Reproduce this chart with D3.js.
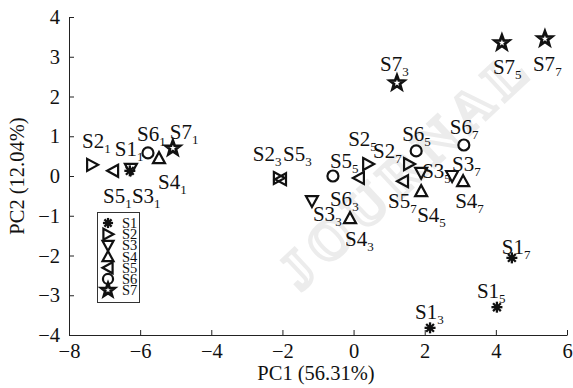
<!DOCTYPE html>
<html><head><meta charset="utf-8">
<script src="https://cdn.jsdelivr.net/npm/d3@7"></script>
<style>
body{margin:0;background:#fff}
svg{display:block}
text{font-family:"Liberation Serif","Times New Roman",serif;fill:#111}
</style>
</head><body>
<svg id="c" width="573" height="388"></svg>
<script>
// ---------- data ----------
const samples = ["S1","S2","S3","S4","S5","S6","S7"];
const stages  = ["1","3","5","7"];
const markerTypes = ["asterisk","triRight","triDown","triUp","triLeft","circle","star"];
// PC1 scores per sample, for stages 1,3,5,7
const pc1 = [
  [-6.29, 2.15, 4.03, 4.45],
  [-7.35,-2.10, 0.41, 1.56],
  [-6.26,-1.17, 1.90, 2.77],
  [-5.47,-0.10, 1.90, 3.08],
  [-6.76,-2.04, 0.15, 1.39],
  [-5.78,-0.58, 1.76, 3.10],
  [-5.08, 1.22, 4.17, 5.38]
];
// PC2 scores per sample, for stages 1,3,5,7
const pc2 = [
  [ 0.13,-3.82,-3.30,-2.06],
  [ 0.28,-0.05, 0.30, 0.30],
  [ 0.18,-0.63, 0.08, 0.00],
  [ 0.45,-1.06,-0.38,-0.13],
  [ 0.13,-0.08,-0.05,-0.13],
  [ 0.58, 0.00, 0.63, 0.78],
  [ 0.70, 2.34, 3.35, 3.45]
];
const xTicks = [-8,-6,-4,-2,0,2,4,6];
const yTicks = [-4,-3,-2,-1,0,1,2,3,4];
const xTitle = "PC1 (56.31%)";
const yTitle = "PC2 (12.04%)";

// label placement (pixel offsets of each label from its mark)
const labelDx = [
  [-15,-15,-20,-10],
  [-10,-26,-20,-36],
  [  1,  1,  1,  0],
  [ -1, -5, -4, -8],
  [-10,  2,-29,-15],
  [-11, -3,-14,-14],
  [ -3,-17, -9,-12]
];
const labelDy = [
  [-15, -9, -9, -4],
  [-17,-17,-18, -6],
  [ 34, 20,  5, -5],
  [ 31, 28, 31, 27],
  [ 32,-18,-10, 27],
  [-12, 30,-10,-11],
  [ -9,-12, 31, 32]
];

// ---------- layout ----------
const svg = d3.select("#c");
const x = d3.scaleLinear().domain([-8,6]).range([69,567]);
const y = d3.scaleLinear().domain([-4,4]).range([335,17]);

// faint watermark
svg.append("text")
  .attr("transform","translate(300,292) rotate(-43)")
  .attr("font-size",54).attr("font-weight","bold")
  .attr("letter-spacing",9)
  .style("fill","none").style("stroke","#ececec").style("stroke-width",4)
  .text("JOURNAL");

// axes
const xAxis = d3.axisBottom(x).tickValues(xTicks).tickSizeInner(-5).tickSizeOuter(0).tickPadding(8);
const yAxis = d3.axisLeft(y).tickValues(yTicks).tickSizeInner(-5).tickSizeOuter(0).tickPadding(9);
const gx = svg.append("g").attr("transform","translate(0,335)").call(xAxis);
const gy = svg.append("g").attr("transform","translate(69,0)").call(yAxis);
[gx,gy].forEach(g=>{
  g.selectAll("path").attr("stroke","#222");
  g.selectAll("line").attr("stroke","#222");
  g.selectAll("text").attr("font-size",20.5).attr("font-family",'"Liberation Serif",serif').style("fill","#111");
});

svg.append("text").attr("x",316).attr("y",380).attr("text-anchor","middle")
  .attr("font-size",20.5).text(xTitle);
svg.append("text").attr("transform","translate(24,176) rotate(-90)").attr("text-anchor","middle")
  .attr("font-size",20.5).text(yTitle);

// marker drawing
function drawMarker(g, type, s){
  const sw = 2.2;
  function poly(pts, w){
    g.append("polygon").attr("points",pts.map(d=>[d[0]*s,d[1]*s].join(",")).join(" "))
     .attr("fill","none").attr("stroke","#111").attr("stroke-width",w||sw).attr("stroke-linejoin","miter");
  }
  if(type==="asterisk"){
    const r=5.5*s;
    [0,45,90,135].forEach(a=>{
      const t=a*Math.PI/180;
      g.append("line").attr("x1",-r*Math.cos(t)).attr("y1",-r*Math.sin(t))
       .attr("x2",r*Math.cos(t)).attr("y2",r*Math.sin(t))
       .attr("stroke","#111").attr("stroke-width",2.3);
    });
  } else if(type==="triRight"){ poly([[-5,-6],[6,0],[-5,6]]); }
  else if(type==="triLeft"){ poly([[5,-6],[-6,0],[5,6]]); }
  else if(type==="triUp"){ poly([[0,-6],[6,5],[-6,5]]); }
  else if(type==="triDown"){ poly([[0,6],[6,-5],[-6,-5]]); }
  else if(type==="circle"){
    g.append("circle").attr("r",5.5*s).attr("fill","none").attr("stroke","#111").attr("stroke-width",sw);
  } else if(type==="star"){
    const pts=[];
    for(let i=0;i<10;i++){
      const r = i%2===0 ? 7.5 : 3.1;
      const t = -Math.PI/2 + i*Math.PI/5;
      pts.push([r*Math.cos(t), r*Math.sin(t)]);
    }
    poly(pts, 2.8);
  }
}

// points
samples.forEach((sName,i)=>{
  stages.forEach((stg,j)=>{
    const px = x(pc1[i][j]), py = y(pc2[i][j]);
    const g = svg.append("g").attr("transform",`translate(${px},${py})`);
    drawMarker(g, markerTypes[i], 1);
    const t = svg.append("text").attr("x",px+labelDx[i][j]).attr("y",py+labelDy[i][j])
      .attr("font-size",21);
    t.append("tspan").text(sName);
    t.append("tspan").attr("font-size",13).attr("dy",5).text(stg);
  });
});

// legend
const lg = svg.append("g");
lg.append("rect").attr("x",97.5).attr("y",212.5).attr("width",42).attr("height",90)
  .attr("fill","#fff").attr("stroke","#333").attr("stroke-width",1);
samples.forEach((sName,i)=>{
  const cy = 223 + i*11.2;
  const g = lg.append("g").attr("transform",`translate(108,${cy})`);
  drawMarker(g, markerTypes[i], 0.92);
  lg.append("text").attr("x",122).attr("y",cy+5).attr("font-size",14.5).text(sName);
});
</script>
</body></html>
